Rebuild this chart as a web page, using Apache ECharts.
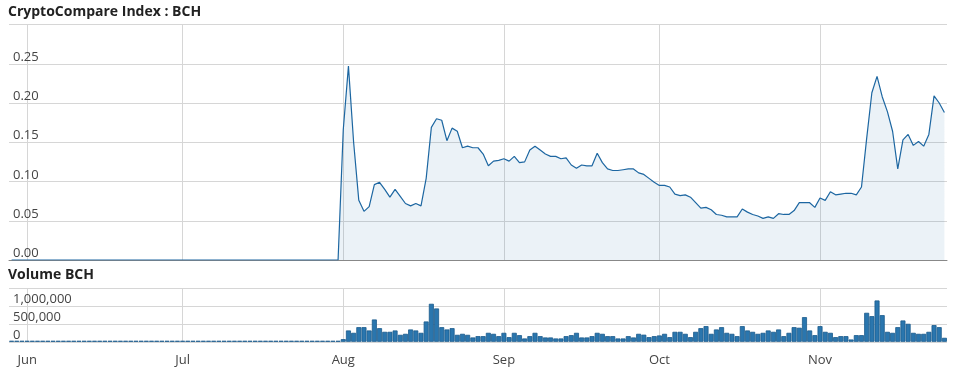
<!DOCTYPE html>
<html>
<head>
<meta charset="utf-8">
<script src="https://cdn.jsdelivr.net/npm/echarts@6/dist/echarts.min.js"></script>
<style>
html,body{margin:0;padding:0;background:#fff;}
#chart{width:954px;height:381px;}
</style>
</head>
<body>
<div id="chart"></div>
<script>
// ---- data ----
const startDate = '2017-05-29';            // first day on the axis
const endDate = '2017-11-25';              // last day on the axis
const monthTicks = ['2017-06-01','2017-07-01','2017-08-01','2017-09-01','2017-10-01','2017-11-01'];
const monthLabels = ['Jun','Jul','Aug','Sep','Oct','Nov'];
const priceTicks = [0, 0.05, 0.10, 0.15, 0.20, 0.25, 0.30];
const volumeTicks = [0, 500000, 1000000, 1500000];

// before launch: May 29-31, June, July
const priceMay = [0,0,0];
const priceJun = [0,0,0,0,0, 0,0,0,0,0, 0,0,0,0,0, 0,0,0,0,0, 0,0,0,0,0, 0,0,0,0,0];
const priceJul = [0,0,0,0,0, 0,0,0,0,0, 0,0,0,0,0, 0,0,0,0,0, 0,0,0,0,0, 0,0,0,0,0, 0];
const volumeMay = [0,0,0];
const volumeJun = [0,0,0,0,0, 0,0,0,0,0, 0,0,0,0,0, 0,0,0,0,0, 0,0,0,0,0, 0,0,0,0,0];
const volumeJul = [0,0,0,0,0, 0,0,0,0,0, 0,0,0,0,0, 0,0,0,0,0, 0,0,0,0,0, 0,0,0,0,0, 0];

const priceAug = [0.166,0.247,0.150,0.076,0.062,0.068,0.096,0.099,0.090,0.080,0.090,0.081,0.072,0.069,0.072,0.069,
  0.104,0.169,0.180,0.178,0.152,0.168,0.164,0.143,0.145,0.143,0.143,0.135,0.120,0.126,0.127];
const priceSep = [0.129,0.126,0.132,0.124,0.125,0.140,0.145,0.140,0.135,0.132,0.132,0.129,0.130,0.121,0.117,
  0.121,0.120,0.120,0.136,0.124,0.116,0.114,0.114,0.115,0.116,0.116,0.111,0.109,0.104,0.099];
const priceOct = [0.095,0.095,0.093,0.084,0.082,0.083,0.080,0.073,0.066,0.067,0.064,0.058,0.057,0.055,0.055,0.055,
  0.065,0.061,0.058,0.056,0.053,0.055,0.053,0.059,0.058,0.058,0.063,0.073,0.073,0.073,0.067];
const priceNov = [0.079,0.076,0.087,0.083,0.084,0.085,0.085,0.083,0.093,0.155,0.213,0.234,0.208,0.189,0.164,0.116,
  0.153,0.160,0.146,0.151,0.145,0.160,0.209,0.200,0.188];

const volumeAug = [75000,318000,252000,411000,411000,318000,626000,383000,280000,280000,318000,196000,224000,346000,
  318000,252000,570000,1066000,935000,411000,346000,383000,196000,224000,196000,122000,159000,159000,252000,224000,159000];
const volumeSep = [252000,131000,252000,187000,94000,159000,252000,159000,122000,122000,94000,94000,159000,187000,
  252000,122000,122000,159000,252000,224000,159000,159000,94000,94000,159000,122000,224000,200000,131000,159000];
const volumeOct = [178000,224000,131000,280000,280000,224000,131000,280000,383000,440000,224000,346000,411000,252000,
  224000,159000,440000,318000,280000,224000,252000,318000,280000,346000,159000,252000,411000,395000,692000,318000,187000];
const volumeNov = [440000,280000,252000,131000,159000,159000,65000,187000,187000,813000,720000,1159000,748000,280000,
  252000,411000,598000,505000,252000,224000,224000,280000,468000,411000,112000];

// ---- build ----
const prices = [].concat(priceMay, priceJun, priceJul, priceAug, priceSep, priceOct, priceNov);
const volumes = [].concat(volumeMay, volumeJun, volumeJul, volumeAug, volumeSep, volumeOct, volumeNov);
const DAY = 86400000;
const t0 = Date.parse(startDate + 'T00:00:00Z');
const t1 = Date.parse(endDate + 'T00:00:00Z');
const dates = prices.map((_, i) => t0 + i * DAY);
const priceData = prices.map((v, i) => [dates[i], v]);
const volumeData = volumes.map((v, i) => [dates[i], v]);
const tickTimes = monthTicks.map(d => Date.parse(d + 'T00:00:00Z'));
const axisMin = t0 - DAY / 2;
const axisMax = t1 + DAY / 2;

const FONT = '"Open Sans", "DejaVu Sans", sans-serif';
const gridColor = '#d6d6d6';
const labelColor = '#444';

const monthFmt = v => {
  const i = tickTimes.indexOf(v);
  return i >= 0 ? monthLabels[i] : '';
};

const xCommon = {
  type: 'value',
  min: axisMin,
  max: axisMax,
  axisTick: { show: false, customValues: tickTimes },
  splitLine: { show: true, lineStyle: { color: gridColor, width: 1 } },
};

const chart = echarts.init(document.getElementById('chart'), null, { renderer: 'canvas' });
chart.setOption({
  animation: false,
  backgroundColor: '#fff',
  textStyle: { fontFamily: FONT },
  title: [
    { text: 'CryptoCompare Index : BCH', left: 8, top: 5, padding: 0,
      textStyle: { fontFamily: FONT, fontSize: 14, fontWeight: 'bold', color: '#222' } },
    { text: 'Volume BCH', left: 8, top: 268, padding: 0,
      textStyle: { fontFamily: FONT, fontSize: 14, fontWeight: 'bold', color: '#222' } }
  ],
  grid: [
    { left: 9, right: 7, top: 24.5, height: 235.5 },
    { left: 9, right: 7, top: 288.3, height: 53.5 }
  ],
  xAxis: [
    Object.assign({}, xCommon, {
      gridIndex: 0,
      axisLine: { show: true, onZero: false, lineStyle: { color: '#888', width: 1 } },
      axisLabel: { show: false, customValues: tickTimes }
    }),
    Object.assign({}, xCommon, {
      gridIndex: 1,
      axisLine: { show: false },
      axisLabel: { show: true, customValues: tickTimes, formatter: monthFmt,
        color: labelColor, fontSize: 13, fontFamily: FONT, margin: 12 }
    })
  ],
  yAxis: [
    { gridIndex: 0, type: 'value', min: priceTicks[0], max: priceTicks[priceTicks.length - 1],
      interval: priceTicks[1] - priceTicks[0],
      axisLine: { show: false }, axisTick: { show: false },
      splitLine: { lineStyle: { color: gridColor, width: 1 } },
      axisLabel: { inside: true, showMaxLabel: false, verticalAlign: 'bottom', align: 'left', margin: 4,
        color: labelColor, fontSize: 13, fontFamily: FONT, formatter: v => v.toFixed(2) } },
    { gridIndex: 1, type: 'value', min: volumeTicks[0], max: volumeTicks[volumeTicks.length - 1],
      interval: volumeTicks[1] - volumeTicks[0],
      axisLine: { show: false }, axisTick: { show: false },
      splitLine: { lineStyle: { color: gridColor, width: 1 } },
      axisLabel: { inside: true, showMaxLabel: false, verticalAlign: 'bottom', align: 'left', margin: 4,
        color: labelColor, fontSize: 13, fontFamily: FONT,
        formatter: v => v.toLocaleString('en-US') } }
  ],
  series: [
    { type: 'line', xAxisIndex: 0, yAxisIndex: 0, data: priceData,
      showSymbol: false, symbol: 'none',
      lineStyle: { color: '#1c66a1', width: 1.2 },
      areaStyle: { color: 'rgba(27,104,163,0.12)' } },
    { type: 'bar', xAxisIndex: 1, yAxisIndex: 1, data: volumeData,
      barWidth: 5, barMinHeight: 1,
      itemStyle: { color: '#2a76ae', borderColor: '#1a5b8c', borderWidth: 0.8 } }
  ]
});
</script>
</body>
</html>
